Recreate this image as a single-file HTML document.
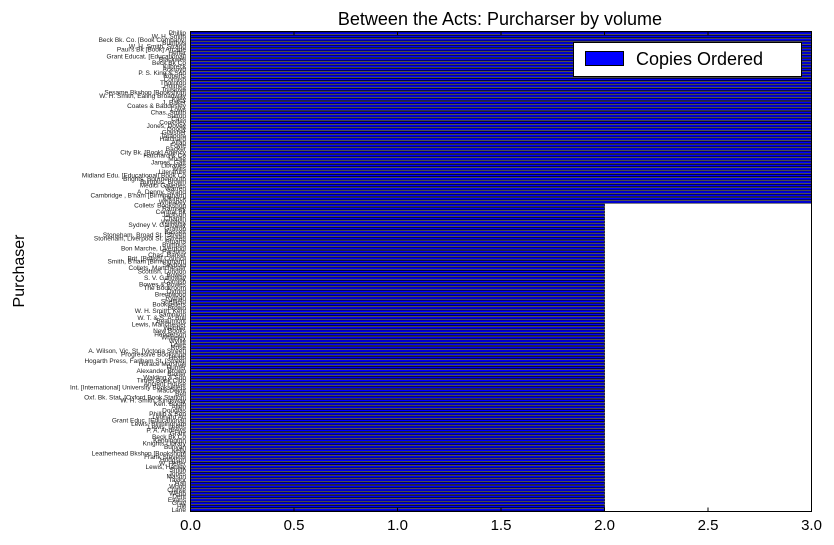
<!DOCTYPE html>
<html><head><meta charset="utf-8"><style>
html,body{margin:0;padding:0;background:#fff;}
svg{display:block;font-family:"Liberation Sans",sans-serif;}
</style></head><body>
<svg id="chart" width="834" height="545" viewBox="0 0 834 545" xmlns="http://www.w3.org/2000/svg">
<text x="500" y="25" font-size="18" text-anchor="middle">Between the Acts: Purcharser by volume</text>
<text x="0" y="0" font-size="16" text-anchor="middle" transform="translate(24,271) rotate(-90)">Purchaser</text>
<g id="bars"></g>
<g id="ylabels"></g>
<g id="xaxis"></g>
<rect x="190.5" y="31.5" width="621" height="480" fill="none" stroke="#000" stroke-width="1"/>
<g>
<rect x="573.5" y="42.5" width="228" height="34" fill="#fff" stroke="#000"/>
<rect x="585.5" y="51.5" width="38" height="14" fill="#0000ff" stroke="#000"/>
<text x="636" y="65" font-size="18">Copies Ordered</text>
</g>
</svg>
<script>
const categories = ["Phillip","W. H. Smith","Beck Bk. Co. [Book Company]","Bumpus","W. H. Smith, Strand","Paul's Bk [Book] Arcade","Heffer","Grant Educat. [Educational]","Blackwell","Beck Bk Co","Kilbreck","Ackroyd","P. S. King & Son","Roberts","Cornish","Thornton","Holmes","Truslove","Sesame Bkshop [Bookshop]","W. H. Smith, Ealing Broadway","Kiley","J. Baker","Coates & Baddesley","Lows","Chas. Smith","Sutton","Cass","Cooksley","Jones, Dovey","Goody","Glaisher","Tarapore","Hatchard","Allan","Foyle","Backer","City Bk. [Book] Agency","Hatchard & Co","Mudie","James, Gatt","Libraries","Wills","Literature","Midland Edu. [Educational] Book Co","Brights, Bournemouth","Bumpus, Brown","Medici Galleries","Warren","A. Denny, Strand","Cambridge , B'ham [Birmingham]","Kilbreck","Wheatley",
"Collets' Bookshop","Ramsey","Central Bk","Jackson","Chaplin","Whiteley","Sydney V. Galloway","Grafton","Bassett","Stoneham, Broad St. [Street]","Stoneham, Liverpool St. [Street]","Stuarts","Bumpus","Bon Marche, Liverpool","Parsons","Chas. Barker","Brit. [British] Council","Smith, B'ham [Birmingham]","Seybold","Collets, Manchester","Scottish, London","Bowes","S. V. Galloway","Cornish","Bowes & Bowes","The Bookroom","Oxford","Brentwood","Ryman","Sheffield","Booksellers","Brown","W. H. Smith, Kent","Sampson","W. T. & S. A. Bull","Beaumont","Lewis, Manchester","Webber","New Books","Henderson","Whiteley","Wyllie","Lowe","Rose","A. Wilson, Vic. St. [Victoria Street]","Progressive Bookshop","Heath","Hogarth Press, Farlham St. [Street]","Horace Marshall","Hunter","Alexander Brown","Baxter","Walding & Son","Times Book Club","Ancient House","Int. [International] University Booksellers","MacDevitt","Bell","Oxf. Bk. Stat. [Oxford Book Station]","W. H. Smith, Kingsway","Ken. Booth","Allen","Douglas","Phillip & Son","Leonard Art","Grant Educ. [Educational]","Lewis, Birmingham","Lewis, Leeds","P. A. Andrews","Grant","Beck Bk Co","Kennington","Knights Library","Bunyan","Kelly","Leatherhead Bkshop [Bookshop]","Frank Stevens","Hodgson","W. Heffer","Lewis, Hanley","Smith","Jones","Mason","Taylor","Hall","Wood","Clarke","Webb","Dent","Evans","Gray","Hill","Lane"];
const topCount = 52;
const values = categories.map((c,i)=> i < topCount ? 3 : 2);
const xTicks = [0,0.5,1,1.5,2,2.5,3];
const xTickLabels = ["0.0","0.5","1.0","1.5","2.0","2.5","3.0"];

const L=190.5,R=811.5,T=31.5,B=511.5;
const xMax=3;
function xs(v){return L+(R-L)*v/xMax;}
const n=categories.length;
const pitch=(B-T)/n;
function ys(i){return T+pitch*i;}
const NS="http://www.w3.org/2000/svg";
const gb=document.getElementById('bars');
const gl=document.getElementById('ylabels');
categories.forEach((c,i)=>{
  const r=document.createElementNS(NS,'rect');
  
  
  const y=ys(i)+pitch*0.15;
  r.setAttribute('x',xs(0));
  r.setAttribute('y',y);
  r.setAttribute('width',xs(values[i])-xs(0));
  r.setAttribute('height',pitch*0.7);
  r.setAttribute('fill','#0000ff');
  r.setAttribute('stroke','#000');
  r.setAttribute('stroke-width','0.7');
  gb.appendChild(r);
  const t=document.createElementNS(NS,'text');
  
  
  t.setAttribute('x',186);
  t.setAttribute('y',ys(i)+pitch/2+2);
  t.setAttribute('font-size','6.5');
  t.setAttribute('text-anchor','end');
  t.setAttribute('fill','#222');
  t.textContent=c;
  gl.appendChild(t);
});
const gx=document.getElementById('xaxis');
xTicks.forEach((v,i)=>{
  const x=xs(v);
  [[B,B-4],[T,T+4]].forEach(p=>{
    const l=document.createElementNS(NS,'line');
    
    
    l.setAttribute('x1',x);l.setAttribute('x2',x);
    l.setAttribute('y1',p[0]);l.setAttribute('y2',p[1]);
    l.setAttribute('stroke','#000');
    gx.appendChild(l);
  });
  const t=document.createElementNS(NS,'text');
  
  
  t.setAttribute('x',x);
  t.setAttribute('y',530);
  t.setAttribute('font-size','15');
  t.setAttribute('text-anchor','middle');
  t.textContent=xTickLabels[i];
  gx.appendChild(t);
});
</script>
</body></html>
